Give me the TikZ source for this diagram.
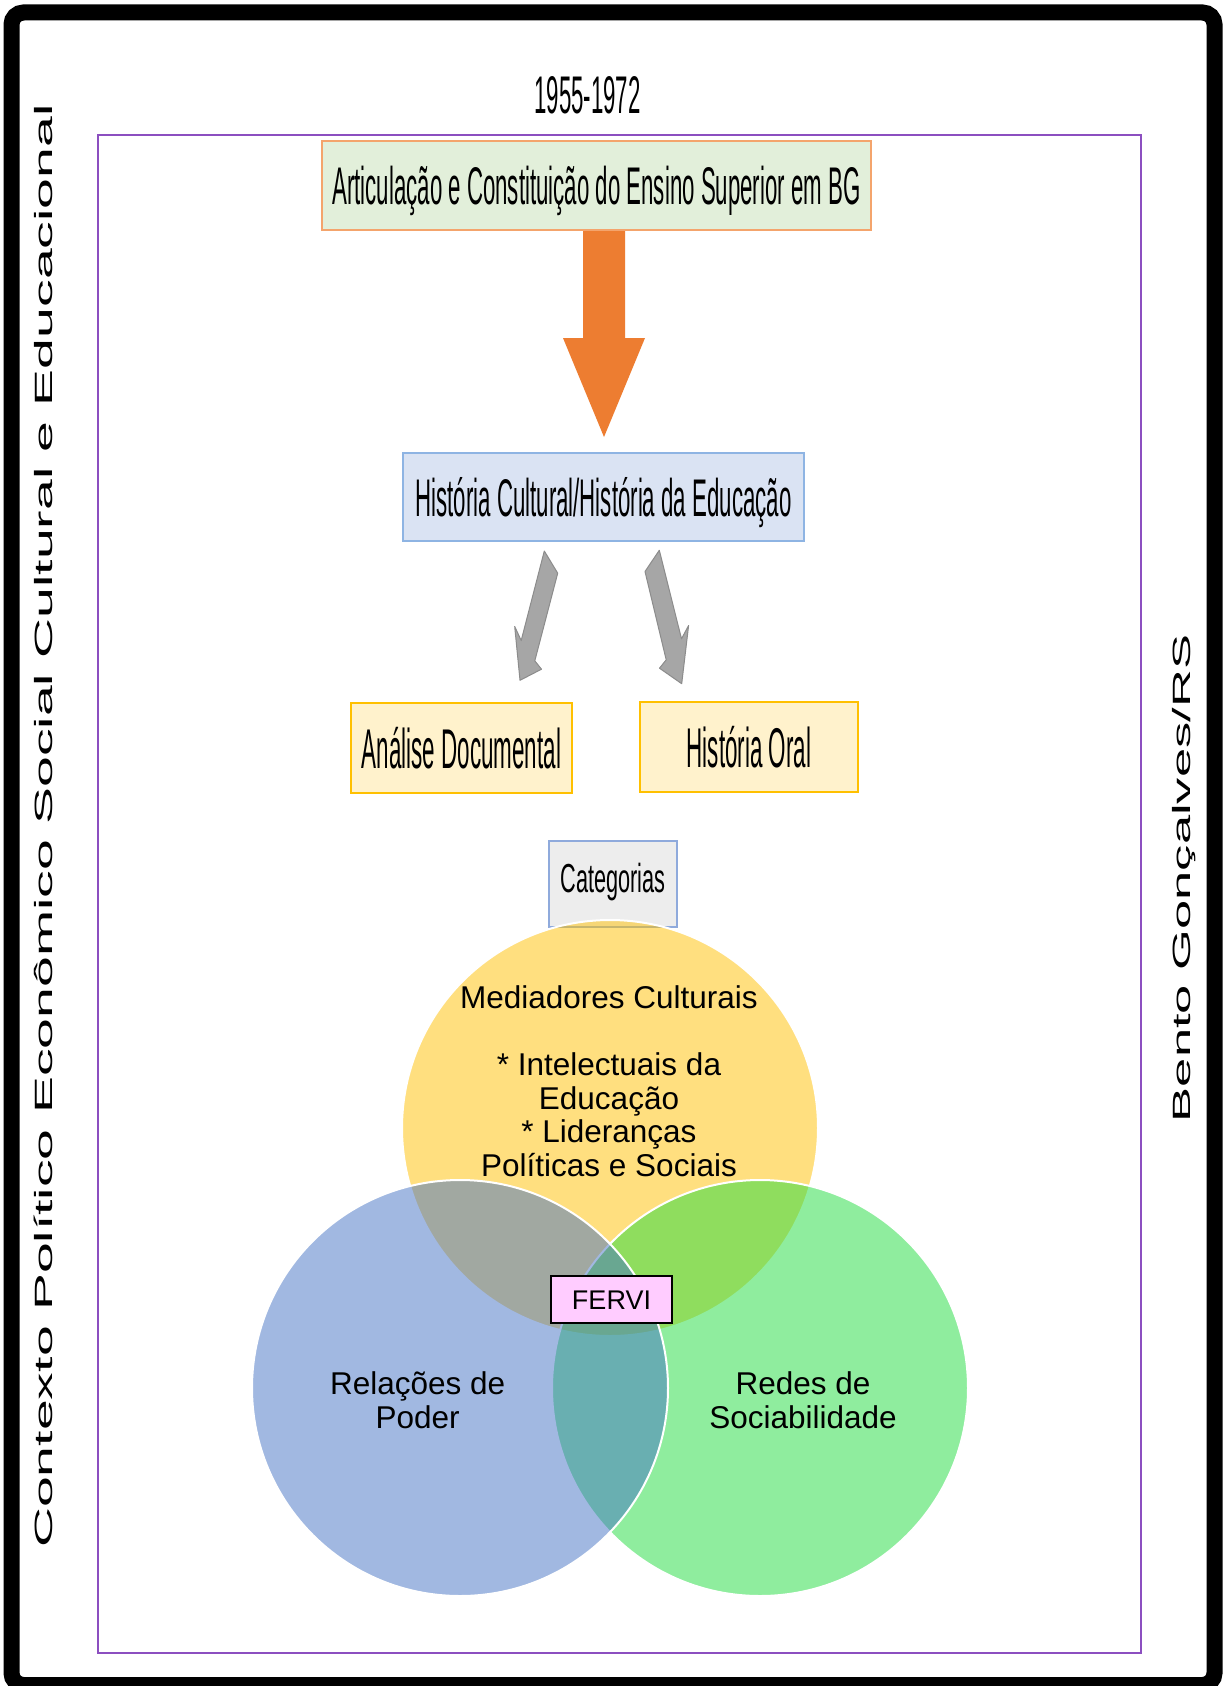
\documentclass[tikz,border=0pt]{standalone}
\usepackage{fontspec}
\setmainfont{Liberation Sans}
\usepackage{graphicx}
\usetikzlibrary{calc}
\newcommand\cond[3]{\scalebox{#2}[1]{\fontsize{#1}{#1}\selectfont #3}}
\definecolor{frameP}{HTML}{8C4FC0}
\definecolor{boxAfill}{HTML}{E2EFDA}
\definecolor{boxAdraw}{HTML}{F4A46C}
\definecolor{arrOr}{HTML}{ED7D31}
\definecolor{boxBfill}{HTML}{DAE3F3}
\definecolor{boxBdraw}{HTML}{8EB4E3}
\definecolor{arrGray}{HTML}{A6A6A6}
\definecolor{arrGrayD}{HTML}{8C8C8C}
\definecolor{boxCfill}{HTML}{FFF2CC}
\definecolor{boxCdraw}{HTML}{FFC000}
\definecolor{catfill}{HTML}{EDEDED}
\definecolor{catdraw}{HTML}{8FAADC}
\definecolor{vY}{HTML}{FFC000}
\definecolor{vG}{HTML}{21DD3F}
\definecolor{vB}{HTML}{4472C4}
\definecolor{ferviC}{HTML}{FFCCFF}
\begin{document}
\begin{tikzpicture}[x=1pt,y=-1pt,
  plainbox/.style={rectangle, inner sep=0pt, line width=2pt},
  venn/.style={circle, minimum size=416pt, inner sep=0pt, fill opacity=0.5, draw=white, draw opacity=1, line width=2pt},
  venntext/.style={align=center, anchor=base, inner sep=0pt, font=\fontsize{31.5}{33.5}\selectfont},
  grayarr/.style={fill=arrGray, draw=arrGrayD, line width=1pt, line join=round}]
\useasboundingbox (0,0) rectangle (1223,1686);
\fill[white] (0,0) rectangle (1223,1686);
% outer frame
\draw[line width=16pt, rounded corners=12pt] (11.5,12.5) rectangle (1214.5,1685);
% inner purple frame
\draw[frameP, line width=2.2pt] (98,135) rectangle (1141,1653);
% year
\node[anchor=base, inner sep=0pt] (year) at (587.5,113) {\cond{53}{0.42}{1955-1972}};
% boxes
\node[plainbox, fill=boxAfill, draw=boxAdraw, minimum width=549pt, minimum height=89pt, text height=38pt, text depth=0pt]
  (top) at (596.5,185.5) {\cond{53}{0.42}{Articulação e Constituição do Ensino Superior em BG}};
\node[plainbox, fill=boxBfill, draw=boxBdraw, minimum width=401pt, minimum height=88pt, text height=38pt, text depth=0pt]
  (hist) at (603.5,497) {\cond{53}{0.42}{História Cultural/História da Educação}};
\node[plainbox, fill=boxCfill, draw=boxCdraw, minimum width=221pt, minimum height=90pt, text height=40pt, text depth=0pt]
  (doc) at (461.5,748) {\cond{56}{0.4}{Análise Documental}};
\node[plainbox, fill=boxCfill, draw=boxCdraw, minimum width=218pt, minimum height=90pt, text height=40pt, text depth=0pt]
  (oral) at (749,747) {\cond{56}{0.4}{História Oral}};
\node[plainbox, fill=catfill, draw=catdraw, line width=1.5pt, minimum width=128pt, minimum height=86pt, text height=29pt, text depth=11.6pt]
  (cat) at (613,884) {\cond{40.5}{0.536}{Categorias}};
% orange arrow
\coordinate (oa) at ($(top.south)+(7.5,0)$);
\fill[arrOr] ($(oa)+(-21,0)$) -- ($(oa)+(-21,107)$) -- ($(oa)+(-41,107)$) -- ($(hist.north)+(0.5,-15)$)
  -- ($(oa)+(41,107)$) -- ($(oa)+(21,107)$) -- ($(oa)+(21,0)$) -- cycle;
% gray arrows
\begin{scope}[shift={(hist.south)}]
\draw[grayarr] (-59.2,9) -- (-45.8,31.2) -- (-68.7,118.8) -- (-62,127.2) -- (-83.5,138.3) -- (-88.8,84.5) -- (-82.3,98.5) -- cycle;
\draw[grayarr] (55.8,8.3) -- (41.5,29.5) -- (62.7,117.8) -- (56,126.2) -- (78.2,141.7) -- (85.1,83.5) -- (78,96.8) -- cycle;
\end{scope}
% venn circles
\node[venn, fill=vY] (med) at (610,1128) {};
\node[venn, fill=vG] (redes) at (760,1388) {};
\node[venn, fill=vB] (rel) at (460,1388) {};
\node[venntext] (medt) at (609,1176) {Mediadores Culturais\\[33.5pt]* Intelectuais da\\Educação\\* Lideranças\\Políticas e Sociais};
\node[venntext] (relt) at (417.6,1428) {Relações de\\Poder};
\node[venntext] (redt) at (803,1428) {Redes de\\Sociabilidade};
\node[rectangle, fill=ferviC, draw=black, line width=1.5pt, minimum width=121pt, minimum height=47pt, inner sep=0pt, text height=19.5pt, text depth=0pt,
  font=\fontsize{27}{27}\selectfont] (fervi) at (611.5,1299.5) {FERVI};
% vertical texts
\node[rotate=90, anchor=base, inner sep=0pt] (ctx) at (52,826) {\scalebox{2.215}[1]{\fontsize{25}{30}\selectfont Contexto Político Econômico Social Cultural e Educacional}};
\node[rotate=90, anchor=base, inner sep=0pt] (bg) at (1190,878.5) {\scalebox{2.1}[1]{\fontsize{25}{30}\selectfont Bento Gonçalves/RS}};
\end{tikzpicture}
\end{document}
